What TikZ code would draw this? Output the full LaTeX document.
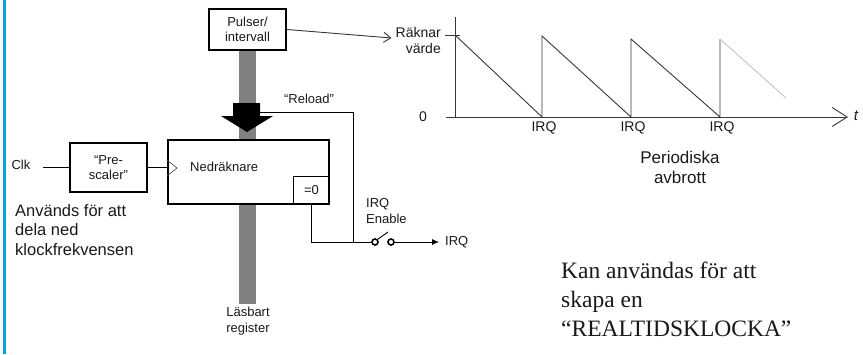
\documentclass[tikz,border=0pt]{standalone}
\usepackage{fontspec}
\setmainfont{Liberation Sans}
\newfontfamily\timesfont{Liberation Serif}
\usetikzlibrary{arrows.meta}
\definecolor{edgeblue}{RGB}{0,162,224}
\definecolor{bargray}{RGB}{128,128,128}
\definecolor{ink}{RGB}{25,25,25}
\definecolor{plotline}{RGB}{55,55,55}
\definecolor{fadeline}{RGB}{195,195,195}
\begin{document}
\begin{tikzpicture}[x=1pt,y=-1pt,
  thickbox/.style={draw=black,line width=2pt,inner sep=0pt,align=center,text=ink,font=\fontsize{13}{15}\selectfont},
  lbl/.style={inner sep=0pt,text=ink,font=\fontsize{13}{16}\selectfont},
  biglbl/.style={inner sep=0pt,text=ink,font=\fontsize{16.5}{19.5}\selectfont},
  wire/.style={draw=black,line width=0.8pt},
  plotwire/.style={draw=plotline,line width=0.9pt},
  swcircle/.style={circle,draw=black,line width=1.6pt,minimum size=6pt,inner sep=0pt}
]
\useasboundingbox (0,0) rectangle (863,354);
% left blue edge
\fill[edgeblue] (3,0) rectangle (5.5,354);

% gray data bar
\node[fill=bargray,minimum width=17,minimum height=254,inner sep=0pt] (bar) at (247.5,177) {};

% pulser box
\node[thickbox,fill=white,minimum width=77,minimum height=41] (pulser) at (247.5,29.5) {Pulser/\\intervall};

% big black arrow
\fill[black] (233,103) -- (260,103) -- (260,116) -- (273,116) -- (247,132) -- (221,116) -- (233,116) -- cycle;

% counter box
\node[thickbox,fill=white,minimum width=161,minimum height=64] (cnt) at (248.5,172) {};
\node[lbl,anchor=west] (cnttxt) at (190,167) {Nedräknare};
\node[lbl,minimum width=35,minimum height=27] (zero) at (311.5,190.5) {=0};
\draw[line width=0.8pt] (zero.south west) -- (zero.north west) -- (zero.north east);
\draw[draw=black!70,line width=0.7pt] (cnt.west |- 0,160) -- (177,168) -- (cnt.west |- 0,176);

% prescaler
\node[thickbox,fill=white,minimum width=77,minimum height=49] (pre) at (108.5,167.5) {“Pre-\\scaler”};
\node[lbl] (clk) at (21,165) {Clk};
\coordinate (clkin) at (43,167.5);
\draw[wire] (clkin) -- (pre.west);
\draw[wire] (pre.east) -- (pre.east -| cnt.west);

\node[biglbl,anchor=west,align=left] (anv) at (15,230) {Används för att\\dela ned\\klockfrekvensen};
\node[lbl,align=center] (lasb) at (248,321) {Läsbart\\register};

% reload and IRQ path
\node[lbl] (reload) at (309,99) {“Reload”};
\coordinate (rl) at (260,112);
\node[swcircle] (swa) at (375,242) {};
\node[swcircle] (swb) at (391,242) {};
\coordinate (join) at (353,242);
\coordinate (lev) at (388,232);
\draw[wire] (rl) -| (join);
\draw[wire] (zero.south) |- (swa.west);
\draw[line width=0.9pt] (swa.north east) -- (lev);
\node[lbl,anchor=west] (irqout) at (445,242) {IRQ};
\draw[wire,-{Latex[length=7pt,width=6pt]}] (swb.east) -- ([xshift=-6pt]irqout.west);
\node[lbl,anchor=west,align=left] (irqen) at (366,211.5) {IRQ\\Enable};

% graph
\coordinate (orig) at (455,117);
\coordinate (ytop) at (455,17);
\coordinate (xl) at (446,117);
\coordinate (xr) at (848,117);
\draw[plotwire] (orig) -- (ytop);
\draw[plotwire] (445,35) -- (460,35);
\draw[plotwire,-{Straight Barb[length=15pt,width=19pt]}] (xl) -- (xr);
\node[lbl,font=\itshape\fontsize{15}{17}\selectfont] (tlab) at (856,116) {t};
\node[lbl,font=\fontsize{14}{17}\selectfont] (zlab) at (423,117) {0};
\draw[plotwire] (455,35) -- (542,117) -- (542,36) -- (631,117) -- (631,39) -- (720,117) -- (720,39);
\draw[draw=fadeline,line width=0.9pt] (720,39) -- (786,98);
\node[lbl,font=\fontsize{14}{16}\selectfont,align=right,anchor=east] (rv) at (441,40) {Räknar\\värde};
\draw[plotwire,-{Straight Barb[length=7pt,width=10pt]}] (pulser.east) -- ([xshift=-4pt,yshift=2pt]rv.west);
\node[lbl,font=\fontsize{14}{16}\selectfont] (irq1) at (544,128) {IRQ};
\node[lbl,font=\fontsize{14}{16}\selectfont] (irq2) at (633,128) {IRQ};
\node[lbl,font=\fontsize{14}{16}\selectfont] (irq3) at (722,128) {IRQ};
\node[biglbl,font=\fontsize{17}{20}\selectfont,align=center] (per) at (680,167) {Periodiska\\avbrott};

\node[inner sep=0pt,anchor=west,align=left,text=ink,font=\timesfont\fontsize{23.5}{29}\selectfont] (kan) at (561,299) {Kan användas för att\\skapa en\\“REALTIDSKLOCKA”};
\end{tikzpicture}
\end{document}
